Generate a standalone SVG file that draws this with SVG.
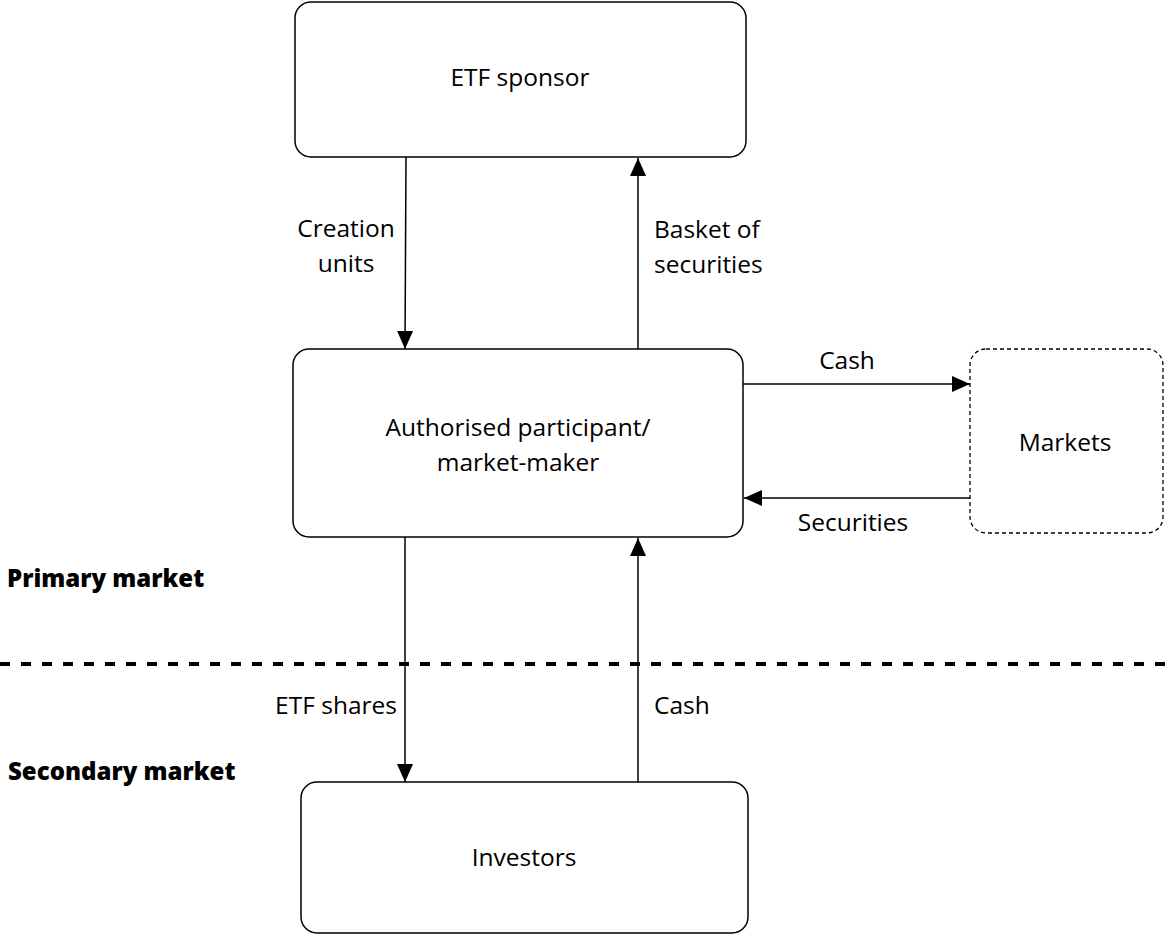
<svg xmlns="http://www.w3.org/2000/svg" width="1172" height="937" viewBox="0 0 1172 937">
<style>
.box{fill:#fff;stroke:#000;stroke-width:1.5}
.dbox{fill:#fff;stroke:#000;stroke-width:1.3;stroke-dasharray:4 3}
.t{font-family:"Open Sans","Noto Sans",sans-serif;font-size:24.5px;font-weight:500;fill:#000}
.b{font-family:"Open Sans","Noto Sans",sans-serif;font-size:24px;font-weight:800;fill:#000}
.c{stroke:#000;stroke-width:1.5;fill:none;marker-end:url(#ah)}
</style>
<defs>
<marker id="ah" markerUnits="userSpaceOnUse" markerWidth="18" markerHeight="18" viewBox="0 0 18 18" refX="18" refY="9" orient="auto">
<path d="M0,1 L18,9 L0,17 Z" fill="#000"/>
</marker>
</defs>
<rect width="1172" height="937" fill="#fff"/>
<line x1="0" y1="664" x2="1172" y2="664" stroke="#000" stroke-width="4" stroke-dasharray="10 11"/>
<g id="connectors">
<line class="c" x1="406" y1="157" x2="405" y2="349"/>
<line class="c" x1="638" y1="349" x2="638" y2="158"/>
<line class="c" x1="743" y1="384" x2="970" y2="384"/>
<line class="c" x1="970" y1="498" x2="744" y2="498"/>
<line class="c" x1="405" y1="537" x2="405" y2="782"/>
<line class="c" x1="638" y1="782" x2="638" y2="538"/>
<text class="t" x="346" y="237" text-anchor="middle">Creation</text>
<text class="t" x="346" y="272" text-anchor="middle">units</text>
<text class="t" x="654" y="238">Basket of</text>
<text class="t" x="654" y="273">securities</text>
<text class="t" x="847" y="369" text-anchor="middle">Cash</text>
<text class="t" x="853" y="531" text-anchor="middle">Securities</text>
<text class="t" x="397" y="714" text-anchor="end">ETF shares</text>
<text class="t" x="654" y="714">Cash</text>
</g>
<g id="sponsor">
<rect class="box" x="295" y="2" width="451" height="155" rx="16"/>
<text class="t" x="520" y="86" text-anchor="middle">ETF sponsor</text>
</g>
<g id="ap">
<rect class="box" x="293" y="349" width="450" height="188" rx="16"/>
<text class="t" x="518" y="436" text-anchor="middle">Authorised participant/</text>
<text class="t" x="518" y="471" text-anchor="middle">market-maker</text>
</g>
<g id="markets">
<rect class="dbox" x="970" y="349" width="193" height="184" rx="16"/>
<text class="t" x="1065" y="451" text-anchor="middle">Markets</text>
</g>
<g id="investors">
<rect class="box" x="301" y="782" width="447" height="151" rx="16"/>
<text class="t" x="524" y="866" text-anchor="middle">Investors</text>
</g>
<g id="labels">
<text class="b" x="7" y="587">Primary market</text>
<text class="b" x="8" y="780">Secondary market</text>
</g>
</svg>
